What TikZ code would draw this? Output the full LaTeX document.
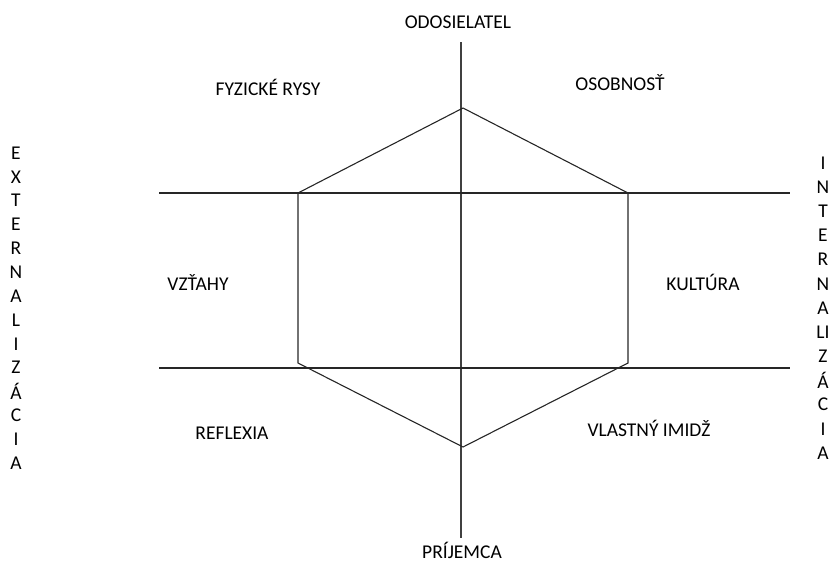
\documentclass[tikz,border=0pt]{standalone}
\usepackage{fontspec}
\setmainfont{Carlito}
\usetikzlibrary{positioning}

\tikzset{
	axis/.style={draw=black!75, line width=1.3pt},
	hexline/.style={draw=black!85, line width=1.1pt},
	lbl/.style={font=\fontsize{19.5}{22}\selectfont, text=black, inner sep=0pt},
	letter/.style={font=\fontsize{19.5}{22}\selectfont, text=black, inner sep=0pt}
}

\begin{document}
\begin{tikzpicture}[x=1pt,y=-1pt]
		\useasboundingbox (0,0) rectangle (830,563);
		% hexagon corners
		\coordinate (top) at (463,108);
		\coordinate (ul) at (298,193);
		\coordinate (ur) at (628,193);
		\coordinate (lr) at (628,363);
		\coordinate (ll) at (298,363);
		\coordinate (bot) at (463,447);
		% axes
		\coordinate (ntop) at (461,42);
		\coordinate (nbot) at (461,538);
		\coordinate (h1l) at (159,193);
		\coordinate (h1r) at (790,193);
		\coordinate (h2l) at (159,368);
		\coordinate (h2r) at (790,368);
		\draw[axis] (ntop) -- (nbot);
		\draw[hexline] (h1l) -- (h1r);
		\draw[hexline] (h2l) -- (h2r);
		\draw[hexline] (top) -- (ur) -- (lr) -- (bot) -- (ll) -- (ul) -- cycle;
		% labels
		\node[lbl] (odos) at (458,22) {ODOSIELATEL};
		\node[lbl,anchor=base] (prij) at (462,558) {PRÍJEMCA};
		\node[lbl] (fyz) at (268,87) {FYZICKÉ RYSY};
		\node[lbl] (osob) at (620,83) {OSOBNOSŤ};
		\node[lbl] (vzt) at (198,283) {VZŤAHY};
		\node[lbl] (kult) at (703,282) {KULTÚRA};
		\node[lbl] (refl) at (232,433) {REFLEXIA};
		\node[lbl] (vlas) at (649,428) {VLASTNÝ IMIDŽ};
		% side words
		\foreach \ch [count=\i from 0] in {E,X,T,E,R,N,A,L,I,Z,Á,C,I,A}
			\node[letter] (ext\i) at (16,153+23.85*\i) {\ch};
		\foreach \ch [count=\i from 0] in {I,N,T,E,R,N,A,LI,Z,Á,C,I,A}
			\node[letter] (int\i) at (823,163+24.17*\i) {\ch};
\end{tikzpicture}
\end{document}
